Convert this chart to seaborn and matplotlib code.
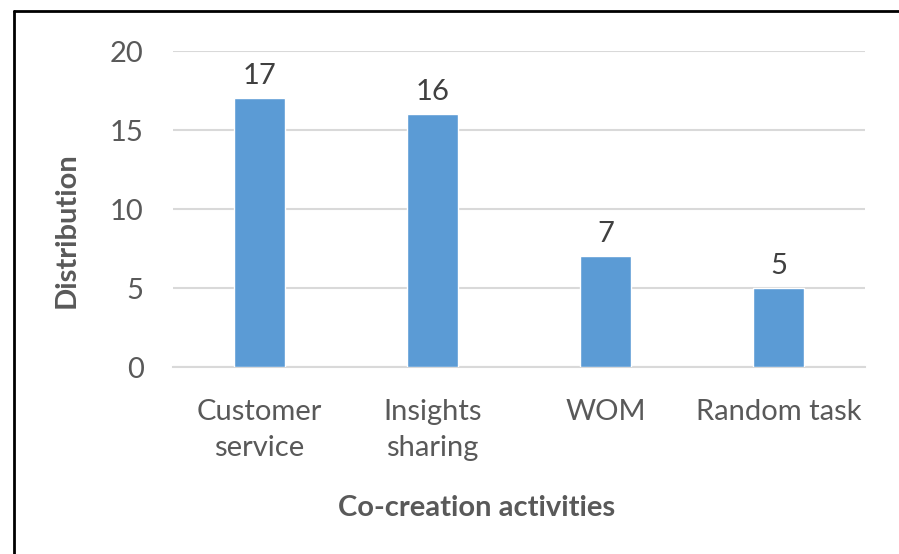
import matplotlib
matplotlib.use("Agg")
import matplotlib.pyplot as plt
import seaborn as sns
import pandas as pd
from matplotlib.lines import Line2D

activities = ["Customer\nservice", "Insights\nsharing", "WOM", "Random task"]
counts = [17, 16, 7, 5]
y_ticks = [0, 5, 10, 15, 20]

df = pd.DataFrame({"activity": activities, "count": counts})

sns.set_theme(style="white")
plt.rcParams["font.family"] = ["Lato", "DejaVu Sans"]

text_color = "#595959"
bar_color = "#5B9BD5"

fig = plt.figure(figsize=(8.99, 5.54), dpi=100)
ax = fig.add_axes([0.1924, 0.3375, 0.7698, 0.5704])

sns.barplot(data=df, x="activity", y="count", color=bar_color, width=0.30,
            saturation=1, ax=ax, zorder=3)

for i, v in enumerate(counts):
    ax.text(i, v + 0.6, str(v), ha="center", va="bottom", fontsize=21, color="#404040")

ax.set_ylim(0, 20)
ax.set_xlim(-0.5, len(activities) - 0.5)
ax.set_yticks(y_ticks)
ax.yaxis.grid(True, color="#D9D9D9", linewidth=1.5, zorder=0)
for s in ["top", "right", "left"]:
    ax.spines[s].set_visible(False)
ax.spines["bottom"].set_color("#D9D9D9")
ax.spines["bottom"].set_linewidth(1.5)
ax.tick_params(axis="both", length=0, labelsize=21, labelcolor=text_color)
ax.tick_params(axis="y", pad=21)
ax.tick_params(axis="x", pad=23)
for lbl in ax.get_xticklabels():
    lbl.set_linespacing(1.5)

ax.set_xlabel("Co-creation activities", fontsize=21, fontweight="bold",
              color=text_color)
ax.set_ylabel("Distribution", fontsize=21, fontweight="bold",
              color=text_color)
ax.xaxis.set_label_coords(0.438, -0.405)
ax.yaxis.set_label_coords(-0.135, 0.434)

# cropped frame: only left and top edges visible
fig.add_artist(Line2D([14 / 899, 14 / 899], [0, 1 - 10.5 / 554],
                      transform=fig.transFigure, color="black", linewidth=2))
fig.add_artist(Line2D([14 / 899, 1], [1 - 10.5 / 554, 1 - 10.5 / 554],
                      transform=fig.transFigure, color="black", linewidth=2))

fig.savefig("out.png", dpi=100)
